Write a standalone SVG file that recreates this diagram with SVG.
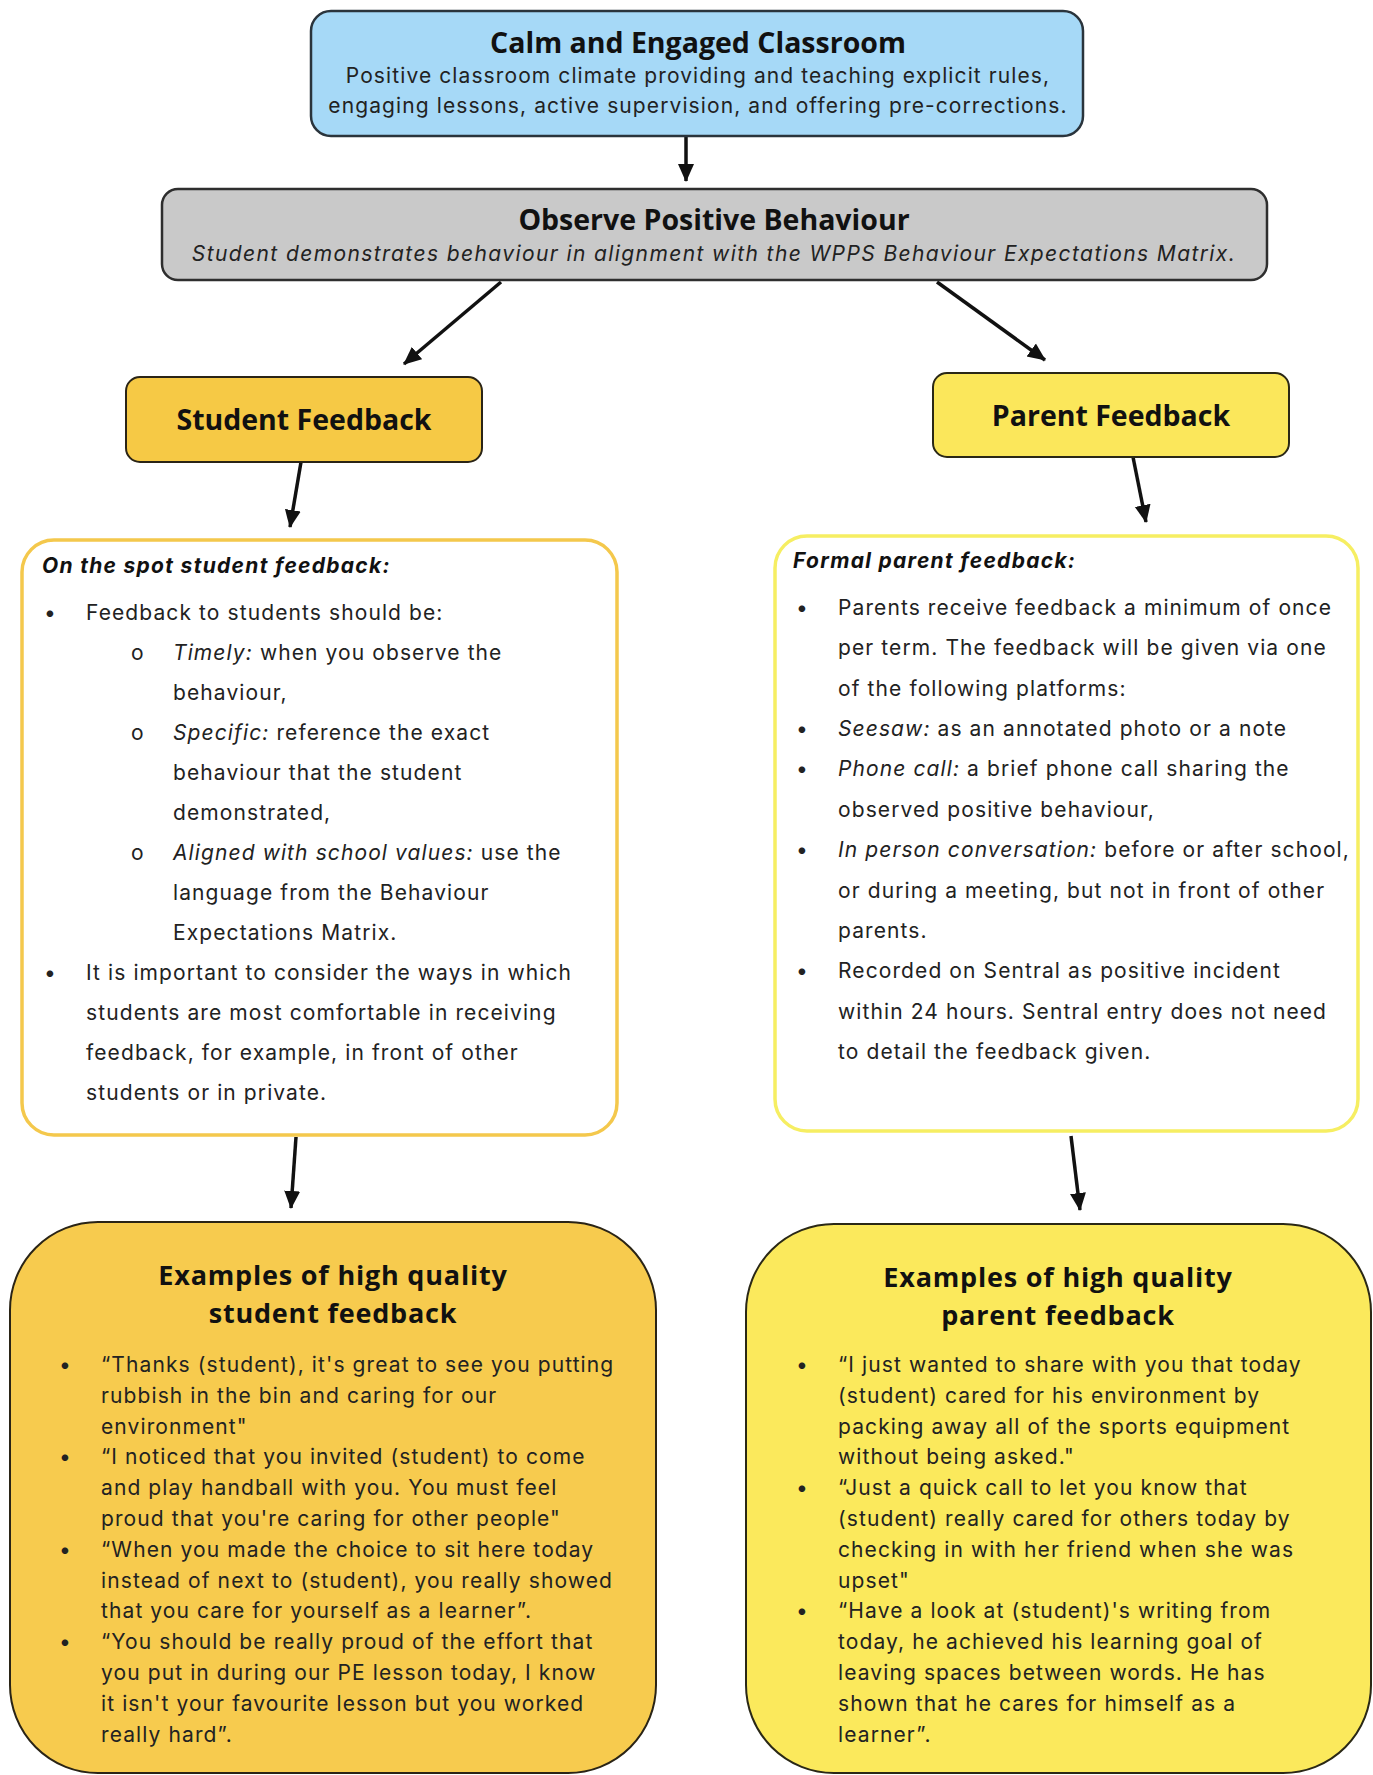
<svg xmlns="http://www.w3.org/2000/svg" width="1373" height="1775" viewBox="0 0 1373 1775">
<defs>
<marker id="ah" markerUnits="userSpaceOnUse" markerWidth="18" markerHeight="18" viewBox="0 0 18 18" refX="17" refY="9" orient="auto">
<path d="M0,1 L18,9 L0,17 Z" fill="#111"/>
</marker>
<style>
.hd{font-family:"Open Sans","Noto Sans",sans-serif;font-weight:700;fill:#111;text-anchor:middle;font-size:28.5px}
.ex{font-size:27px;letter-spacing:0.8px}
.bd{font-family:Inter,"Noto Sans",sans-serif;font-size:21px;letter-spacing:1.1px;fill:#222}
.it{font-style:italic}
.bi{font-family:Inter,"Noto Sans",sans-serif;font-size:21px;letter-spacing:1.3px;font-weight:700;font-style:italic;fill:#111}
.ctr{text-anchor:middle}
.cn{stroke:#111;stroke-width:3.5;fill:none;marker-end:url(#ah)}
</style>
</defs>
<rect width="1373" height="1775" fill="#fff"/>

<g id="connectors">
<line class="cn" x1="686" y1="137" x2="686" y2="181"/>
<line class="cn" x1="501" y1="282" x2="404" y2="364"/>
<line class="cn" x1="937" y1="282" x2="1045" y2="360"/>
<line class="cn" x1="301" y1="462" x2="290" y2="527"/>
<line class="cn" x1="1133" y1="457" x2="1146" y2="522"/>
<line class="cn" x1="296" y1="1137" x2="291" y2="1208"/>
<line class="cn" x1="1071" y1="1136" x2="1080" y2="1210"/>
</g>

<g id="calm">
<rect x="311" y="11" width="772" height="125" rx="20" fill="#A6D9F7" stroke="#2A343C" stroke-width="2.5"/>
<text class="hd" x="698" y="53">Calm and Engaged Classroom</text>
<text class="bd ctr" x="698" y="83">Positive classroom climate providing and teaching explicit rules,</text>
<text class="bd ctr" x="698" y="113">engaging lessons, active supervision, and offering pre-corrections.</text>
</g>

<g id="observe">
<rect x="162" y="189" width="1105" height="91" rx="16" fill="#C9C9C9" stroke="#2E2E2E" stroke-width="2.5"/>
<text class="hd" x="714" y="230">Observe Positive Behaviour</text>
<text class="bd ctr it" x="714" y="261" style="letter-spacing:1.4px">Student demonstrates behaviour in alignment with the WPPS Behaviour Expectations Matrix.</text>
</g>

<g id="student-feedback">
<rect x="126" y="377" width="356" height="85" rx="14" fill="#F6C945" stroke="#2A2416" stroke-width="2"/>
<text class="hd" x="304" y="430">Student Feedback</text>
</g>

<g id="parent-feedback">
<rect x="933" y="373" width="356" height="84" rx="14" fill="#FBE75B" stroke="#2A2816" stroke-width="2"/>
<text class="hd" x="1111" y="426">Parent Feedback</text>
</g>

<g id="on-the-spot">
<rect x="22" y="540" width="595" height="595" rx="32" fill="#fff" stroke="#F4C84C" stroke-width="3.5"/>
<text class="bi" x="42" y="573">On the spot student feedback:</text>
<text class="bd" x="44" y="620">•</text>
<text class="bd" x="86" y="620">Feedback to students should be:</text>
<text class="bd" x="131" y="660">o</text>
<text class="bd" x="173" y="660"><tspan class="it">Timely:</tspan> when you observe the</text>
<text class="bd" x="173" y="700">behaviour,</text>
<text class="bd" x="131" y="740">o</text>
<text class="bd" x="173" y="740"><tspan class="it">Specific:</tspan> reference the exact</text>
<text class="bd" x="173" y="780">behaviour that the student</text>
<text class="bd" x="173" y="820">demonstrated,</text>
<text class="bd" x="131" y="860">o</text>
<text class="bd" x="173" y="860"><tspan class="it">Aligned with school values:</tspan> use the</text>
<text class="bd" x="173" y="900">language from the Behaviour</text>
<text class="bd" x="173" y="940">Expectations Matrix.</text>
<text class="bd" x="44" y="980">•</text>
<text class="bd" x="86" y="980">It is important to consider the ways in which</text>
<text class="bd" x="86" y="1020">students are most comfortable in receiving</text>
<text class="bd" x="86" y="1060">feedback, for example, in front of other</text>
<text class="bd" x="86" y="1100">students or in private.</text>
</g>

<g id="formal-parent">
<rect x="775" y="536" width="583" height="595" rx="32" fill="#fff" stroke="#F6EE62" stroke-width="3.5"/>
<text class="bi" x="793" y="568">Formal parent feedback:</text>
<text class="bd" x="796" y="615">•</text>
<text class="bd" x="838" y="615">Parents receive feedback a minimum of once</text>
<text class="bd" x="838" y="655">per term. The feedback will be given via one</text>
<text class="bd" x="838" y="696">of the following platforms:</text>
<text class="bd" x="796" y="736">•</text>
<text class="bd" x="838" y="736"><tspan class="it">Seesaw:</tspan> as an annotated photo or a note</text>
<text class="bd" x="796" y="776">•</text>
<text class="bd" x="838" y="776"><tspan class="it">Phone call:</tspan> a brief phone call sharing the</text>
<text class="bd" x="838" y="817">observed positive behaviour,</text>
<text class="bd" x="796" y="857">•</text>
<text class="bd" x="838" y="857"><tspan class="it">In person conversation:</tspan> before or after school,</text>
<text class="bd" x="838" y="898">or during a meeting, but not in front of other</text>
<text class="bd" x="838" y="938">parents.</text>
<text class="bd" x="796" y="978">•</text>
<text class="bd" x="838" y="978">Recorded on Sentral as positive incident</text>
<text class="bd" x="838" y="1019">within 24 hours. Sentral entry does not need</text>
<text class="bd" x="838" y="1059">to detail the feedback given.</text>
</g>

<g id="student-examples">
<rect x="10" y="1222" width="646" height="551" rx="88" fill="#F7CB4E" stroke="#2A2416" stroke-width="2"/>
<text class="hd ex" x="333" y="1285">Examples of high quality</text>
<text class="hd ex" x="333" y="1323">student feedback</text>
<text class="bd" x="59" y="1372">•</text>
<text class="bd" x="101" y="1372">“Thanks (student), it's great to see you putting</text>
<text class="bd" x="101" y="1403">rubbish in the bin and caring for our</text>
<text class="bd" x="101" y="1434">environment"</text>
<text class="bd" x="59" y="1464">•</text>
<text class="bd" x="101" y="1464">“I noticed that you invited (student) to come</text>
<text class="bd" x="101" y="1495">and play handball with you. You must feel</text>
<text class="bd" x="101" y="1526">proud that you're caring for other people"</text>
<text class="bd" x="59" y="1557">•</text>
<text class="bd" x="101" y="1557">“When you made the choice to sit here today</text>
<text class="bd" x="101" y="1588">instead of next to (student), you really showed</text>
<text class="bd" x="101" y="1618">that you care for yourself as a learner”.</text>
<text class="bd" x="59" y="1649">•</text>
<text class="bd" x="101" y="1649">“You should be really proud of the effort that</text>
<text class="bd" x="101" y="1680">you put in during our PE lesson today, I know</text>
<text class="bd" x="101" y="1711">it isn't your favourite lesson but you worked</text>
<text class="bd" x="101" y="1742">really hard”.</text>
</g>

<g id="parent-examples">
<rect x="746" y="1224" width="625" height="549" rx="88" fill="#FBE95C" stroke="#2A2816" stroke-width="2"/>
<text class="hd ex" x="1058" y="1287">Examples of high quality</text>
<text class="hd ex" x="1058" y="1325">parent feedback</text>
<text class="bd" x="796" y="1372">•</text>
<text class="bd" x="838" y="1372">“I just wanted to share with you that today</text>
<text class="bd" x="838" y="1403">(student) cared for his environment by</text>
<text class="bd" x="838" y="1434">packing away all of the sports equipment</text>
<text class="bd" x="838" y="1464">without being asked."</text>
<text class="bd" x="796" y="1495">•</text>
<text class="bd" x="838" y="1495">“Just a quick call to let you know that</text>
<text class="bd" x="838" y="1526">(student) really cared for others today by</text>
<text class="bd" x="838" y="1557">checking in with her friend when she was</text>
<text class="bd" x="838" y="1588">upset"</text>
<text class="bd" x="796" y="1618">•</text>
<text class="bd" x="838" y="1618">“Have a look at (student)'s writing from</text>
<text class="bd" x="838" y="1649">today, he achieved his learning goal of</text>
<text class="bd" x="838" y="1680">leaving spaces between words. He has</text>
<text class="bd" x="838" y="1711">shown that he cares for himself as a</text>
<text class="bd" x="838" y="1742">learner”.</text>
</g>
</svg>
